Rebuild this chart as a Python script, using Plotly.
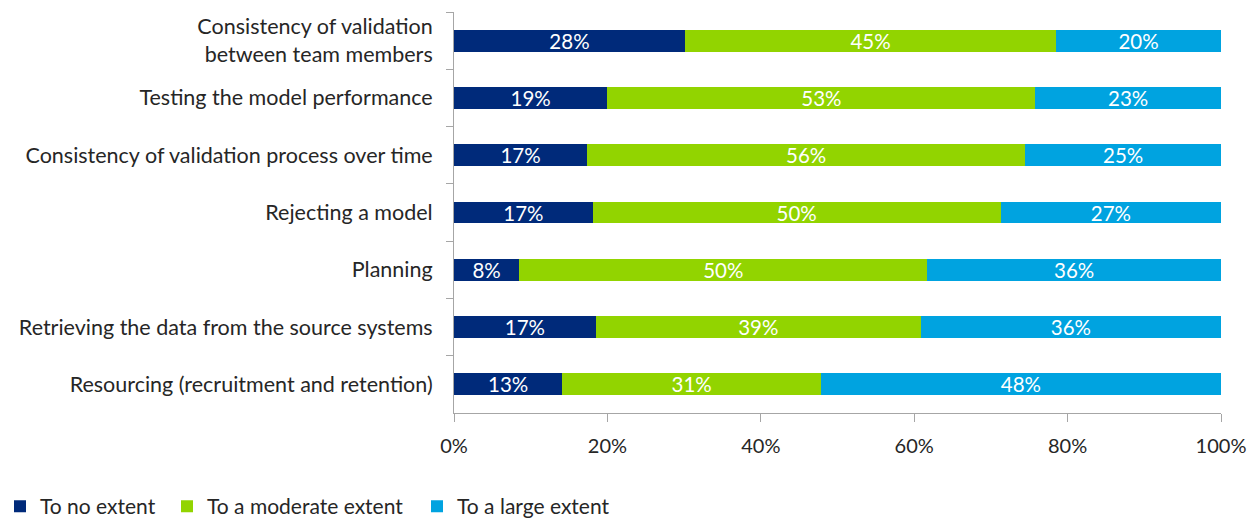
import plotly.graph_objects as go

categories = [
    "Consistency of validation<br>between team members",
    "Testing the model performance",
    "Consistency of validation process over time",
    "Rejecting a model",
    "Planning",
    "Retrieving the data from the source systems",
    "Resourcing (recruitment and retention)",
]
series_names = ["To no extent", "To a moderate extent", "To a large extent"]
no_extent = [28, 19, 17, 17, 8, 17, 13]
moderate_extent = [45, 53, 56, 50, 50, 39, 31]
large_extent = [20, 23, 25, 27, 36, 36, 48]
x_tick_vals = [0, 20, 40, 60, 80, 100]
x_tick_text = ["0%", "20%", "40%", "60%", "80%", "100%"]

colors = ["#002A7A", "#92D400", "#00A3E0"]
font_family = "Lato, 'Open Sans', sans-serif"
text_color = "#262626"
axis_color = "#A6A6A6"

fig = go.Figure()
legend_ids = ["legend", "legend2", "legend3"]
for name, vals, color, lg in zip(series_names,
                                 [no_extent, moderate_extent, large_extent],
                                 colors, legend_ids):
    fig.add_trace(go.Bar(
        y=categories, x=vals, name=name, orientation="h",
        marker=dict(color=color, line=dict(width=0)),
        text=[f"{v}%" for v in vals], textposition="inside",
        insidetextanchor="middle", textangle=0,
        textfont=dict(color="white", size=20.5, family=font_family),
        legend=lg, showlegend=True,
    ))

# three single-entry legends laid out along the bottom of the page
legend_common = dict(orientation="h", yanchor="middle", xanchor="left",
                     xref="container", yref="container", y=0.022,
                     font=dict(size=21, color=text_color, family=font_family),
                     bgcolor="rgba(0,0,0,0)", itemwidth=30, borderwidth=0)

fig.update_layout(
    showlegend=True,
    barmode="stack", barnorm="percent", bargap=0.617,
    width=1250, height=518,
    margin=dict(l=454, r=29, t=12, b=105, autoexpand=False),
    plot_bgcolor="white", paper_bgcolor="white",
    font=dict(family=font_family, size=20, color=text_color),
    uniformtext=dict(minsize=18, mode="show"),
    legend=dict(x=0.0, **legend_common),
    legend2=dict(x=167 / 1250, **legend_common),
    legend3=dict(x=417 / 1250, **legend_common),
    xaxis=dict(range=[0, 100], tickvals=x_tick_vals, ticktext=x_tick_text,
               showgrid=False, zeroline=False, showline=True,
               linecolor=axis_color, linewidth=1, ticks="outside",
               tickcolor=axis_color, ticklen=8, ticklabelstandoff=7,
               tickfont=dict(size=20, color=text_color)),
    yaxis=dict(autorange="reversed", showgrid=False, showline=True,
               linecolor=axis_color, linewidth=1, ticks="outside",
               tickson="boundaries", tickcolor=axis_color, ticklen=7,
               ticklabelstandoff=16,
               tickfont=dict(size=21.5, color=text_color)),
)

fig.write_html("out.html")
